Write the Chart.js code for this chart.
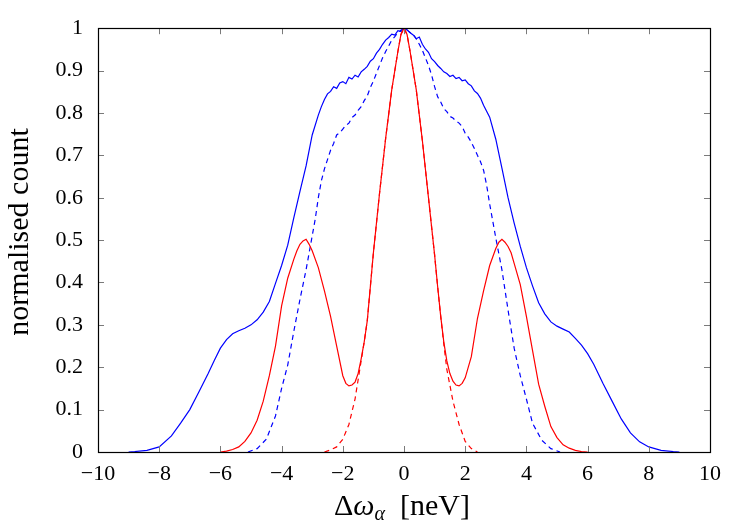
<!DOCTYPE html>
<html>
<head>
<meta charset="utf-8">
<script src="https://cdn.jsdelivr.net/npm/chart.js@4/dist/chart.umd.min.js"></script>
<style>
html,body{margin:0;padding:0;background:#fff;}
#wrap{width:750px;height:525px;}
</style>
</head>
<body>
<div id="wrap"><canvas id="c" width="750" height="525"></canvas></div>
<script>
// ---- data ----
const xTicks = [-10, -8, -6, -4, -2, 0, 2, 4, 6, 8, 10];
const yTicks = [0, 0.1, 0.2, 0.3, 0.4, 0.5, 0.6, 0.7, 0.8, 0.9, 1];
const xTitleParts = ["Δ", "ω", "α", "  [neV]"];
const yTitle = "normalised count";

const blueSolidX = [-9.0,-8.8,-8.4,-8.0,-7.6,-7.3,-7.0,-6.7,-6.4,-6.2,-6.0,-5.8,-5.6,-5.4,-5.2,-5.0,-4.8,-4.6,-4.4,-4.2,-4.0,-3.8,-3.6,-3.4,-3.2,-3.0,-2.8,-2.7,
  -2.6,-2.5,-2.4,-2.3,-2.2,-2.1,-2.0,-1.9,-1.8,-1.7,-1.6,-1.5,-1.4,-1.3,-1.2,-1.1,-1.0,-0.9,-0.8,-0.7,-0.6,-0.5,-0.4,-0.3,-0.2,-0.1,0,
  0.1,0.2,0.3,0.4,0.5,0.6,0.7,0.8,0.9,1.0,1.1,1.2,1.3,1.4,1.5,1.6,1.7,1.8,1.9,2.0,2.1,2.2,2.3,2.4,2.5,2.6,
  2.8,3.0,3.2,3.4,3.6,3.8,4.0,4.2,4.4,4.6,4.8,5.0,5.2,5.4,5.6,5.8,6.0,6.2,6.5,6.8,7.1,7.4,7.7,8.0,8.4,8.8,9.0];
const blueSolidY = [0,0.001,0.004,0.012,0.038,0.068,0.100,0.142,0.185,0.216,0.245,0.265,0.279,0.286,0.292,0.300,0.312,0.330,0.355,0.398,0.440,0.488,0.553,0.615,0.675,0.748,0.795,0.815,
  0.832,0.845,0.851,0.862,0.858,0.871,0.874,0.869,0.884,0.880,0.889,0.885,0.897,0.903,0.910,0.922,0.928,0.941,0.950,0.962,0.972,0.978,0.986,0.984,0.994,0.992,1.000,
  0.996,0.989,0.984,0.975,0.979,0.962,0.951,0.943,0.928,0.921,0.912,0.905,0.897,0.893,0.886,0.889,0.881,0.884,0.876,0.878,0.869,0.864,0.852,0.846,0.835,0.818,
  0.790,0.738,0.670,0.600,0.540,0.485,0.435,0.392,0.352,0.326,0.307,0.297,0.290,0.283,0.268,0.252,0.232,0.207,0.162,0.120,0.078,0.045,0.024,0.012,0.004,0.001,0];

const blueDashX = [-5.1,-4.8,-4.5,-4.2,-4.0,-3.8,-3.6,-3.4,-3.2,-3.0,-2.9,-2.8,-2.7,-2.6,-2.5,-2.4,-2.3,-2.2,-2.1,-2.0,-1.9,-1.8,-1.7,-1.6,-1.5,-1.4,-1.3,-1.2,-1.1,-1.0,-0.9,-0.8,-0.7,-0.6,-0.5,-0.4,-0.3,-0.2,-0.1,0,
  0.1,0.2,0.3,0.4,0.5,0.6,0.7,0.8,0.9,1.0,1.1,1.2,1.3,1.4,1.5,1.6,1.7,1.8,1.9,2.0,2.1,2.2,2.3,2.4,2.5,2.6,2.7,2.8,2.9,3.0,3.2,3.4,3.6,3.8,4.0,4.2,4.5,4.8,5.1];
const blueDashY = [0,0.008,0.03,0.085,0.15,0.205,0.285,0.36,0.43,0.51,0.55,0.60,0.64,0.668,0.69,0.712,0.728,0.748,0.753,0.762,0.771,0.776,0.789,0.795,0.806,0.815,0.829,0.840,0.860,0.875,0.894,0.912,0.930,0.945,0.958,0.972,0.980,0.990,0.995,1.0,
  0.996,0.990,0.986,0.975,0.962,0.948,0.930,0.912,0.890,0.862,0.838,0.826,0.810,0.803,0.792,0.788,0.781,0.776,0.768,0.752,0.743,0.731,0.716,0.700,0.685,0.665,0.630,0.585,0.545,0.505,0.430,0.335,0.245,0.180,0.125,0.068,0.028,0.008,0];

const redSolidX = [-6.0,-5.8,-5.6,-5.4,-5.2,-5.0,-4.8,-4.6,-4.4,-4.2,-4.0,-3.8,-3.6,-3.5,-3.4,-3.3,-3.2,-3.1,-3.0,-2.8,-2.6,-2.4,-2.2,-2.0,-1.9,-1.8,-1.7,-1.6,-1.5,-1.4,-1.3,-1.2,-1.1,-1.0,-0.8,-0.6,-0.4,-0.2,-0.1,0,
  0.1,0.2,0.4,0.6,0.8,1.0,1.1,1.2,1.3,1.4,1.5,1.6,1.7,1.8,1.9,2.0,2.2,2.4,2.6,2.8,3.0,3.1,3.2,3.3,3.4,3.5,3.6,3.8,4.0,4.2,4.4,4.6,4.8,5.0,5.2,5.4,5.6,5.8,6.0];
const redSolidY = [0,0.002,0.006,0.012,0.025,0.045,0.075,0.12,0.18,0.25,0.345,0.41,0.455,0.475,0.49,0.498,0.502,0.49,0.475,0.435,0.38,0.32,0.25,0.18,0.162,0.156,0.158,0.165,0.185,0.22,0.26,0.31,0.39,0.47,0.61,0.74,0.855,0.945,0.985,1.0,
  0.985,0.945,0.855,0.735,0.60,0.465,0.39,0.32,0.26,0.215,0.185,0.167,0.158,0.156,0.162,0.175,0.225,0.315,0.38,0.44,0.48,0.495,0.502,0.495,0.485,0.47,0.445,0.395,0.32,0.24,0.16,0.108,0.06,0.034,0.017,0.009,0.004,0.001,0];

const redDashX = [-2.6,-2.4,-2.2,-2.0,-1.8,-1.6,-1.4,-1.3,-1.2,-1.1,-1.0,-0.8,-0.6,-0.4,-0.2,-0.1,0,0.1,0.2,0.4,0.6,0.8,1.0,1.1,1.2,1.3,1.4,1.6,1.8,2.0,2.2,2.4];
const redDashY = [0,0.005,0.012,0.03,0.065,0.125,0.215,0.26,0.31,0.39,0.47,0.61,0.74,0.855,0.945,0.985,1.0,0.985,0.945,0.855,0.735,0.60,0.465,0.39,0.32,0.255,0.195,0.12,0.065,0.025,0.008,0];

// ---- build chart ----
function pts(xs, ys){ return xs.map((x,i)=>({x:x, y:ys[i]})); }
const FONT = "'Liberation Serif', 'Times New Roman', serif";
const L = 98, R = 710, T = 22, B = 452;

const framePlugin = {
  id: 'frame',
  afterDatasetsDraw(chart){
    const ctx = chart.ctx, a = chart.chartArea;
    const xs = chart.scales.x, ys = chart.scales.y;
    ctx.save();
    ctx.strokeStyle = '#7a7a7a';
    ctx.lineWidth = 1;
    const tl = 6;
    xTicks.forEach(v => {
      const p = Math.round(xs.getPixelForValue(v)) + 0.5;
      ctx.beginPath();
      ctx.moveTo(p, a.bottom); ctx.lineTo(p, a.bottom - tl);
      ctx.moveTo(p, a.top); ctx.lineTo(p, a.top + tl);
      ctx.stroke();
    });
    yTicks.forEach(v => {
      const p = Math.round(ys.getPixelForValue(v)) + 0.5;
      ctx.beginPath();
      ctx.moveTo(a.left, p); ctx.lineTo(a.left + tl, p);
      ctx.moveTo(a.right, p); ctx.lineTo(a.right - tl, p);
      ctx.stroke();
    });
    ctx.strokeStyle = '#000';
    ctx.lineWidth = 1.2;
    ctx.strokeRect(Math.round(a.left)+0.5, Math.round(a.top)+0.5, Math.round(a.right - a.left), Math.round(a.bottom - a.top));
    ctx.restore();
  },
  afterDraw(chart){
    const ctx = chart.ctx;
    ctx.save();
    ctx.fillStyle = '#000';
    // y title
    ctx.font = "30px " + FONT;
    ctx.textAlign = 'center';
    ctx.textBaseline = 'alphabetic';
    ctx.translate(28, 232);
    ctx.rotate(-Math.PI/2);
    ctx.fillText(yTitle, 0, 0);
    ctx.restore();
    // x title with subscript
    ctx.save();
    ctx.fillStyle = '#000';
    ctx.textBaseline = 'alphabetic';
    ctx.textAlign = 'left';
    const fMain = "30px " + FONT, fIt = "italic 30px " + FONT, fSub = "italic 20px " + FONT;
    ctx.font = fMain; const w0 = ctx.measureText(xTitleParts[0]).width;
    ctx.font = fIt; const w1 = ctx.measureText(xTitleParts[1]).width;
    ctx.font = fSub; const w2 = ctx.measureText(xTitleParts[2]).width;
    ctx.font = fMain; const w3 = ctx.measureText(xTitleParts[3]).width;
    const total = w0 + w1 + w2 + w3;
    let x = 402 - total/2;
    const base = 515;
    ctx.font = fMain; ctx.fillText(xTitleParts[0], x, base); x += w0;
    ctx.font = fIt; ctx.fillText(xTitleParts[1], x, base); x += w1;
    ctx.font = fSub; ctx.fillText(xTitleParts[2], x, base + 5); x += w2;
    ctx.font = fMain; ctx.fillText(xTitleParts[3], x, base);
    ctx.restore();
  }
};

new Chart(document.getElementById('c'), {
  type: 'line',
  data: {
    datasets: [
      { data: pts(blueSolidX, blueSolidY), borderColor: '#0000ff', borderWidth: 1.2, pointRadius: 0, order: 4 },
      { data: pts(blueDashX, blueDashY), borderColor: '#0000ff', borderWidth: 1.2, pointRadius: 0, borderDash: [5, 4], order: 3 },
      { data: pts(redSolidX, redSolidY), borderColor: '#ff0000', borderWidth: 1.2, pointRadius: 0, order: 2 },
      { data: pts(redDashX, redDashY), borderColor: '#ff0000', borderWidth: 1.2, pointRadius: 0, borderDash: [5, 4], order: 1 }
    ]
  },
  options: {
    responsive: false,
    devicePixelRatio: 1,
    animation: false,
    layout: { padding: { top: T, right: 750 - R, left: 0, bottom: 0 } },
    plugins: { legend: { display: false }, tooltip: { enabled: false } },
    elements: { line: { tension: 0 } },
    scales: {
      x: {
        type: 'linear', min: -10, max: 10,
        afterBuildTicks: s => { s.ticks = xTicks.map(v => ({value: v})); },
        afterFit: s => { s.height = 525 - B; },
        grid: { display: true, drawOnChartArea: false, drawTicks: false },
        border: { display: false },
        ticks: {
          padding: 9, color: '#000', font: { family: FONT, size: 22 },
          maxRotation: 0, autoSkip: false,
          callback: v => (v < 0 ? '\u2212' + Math.abs(v) : String(v))
        }
      },
      y: {
        type: 'linear', min: 0, max: 1,
        afterBuildTicks: s => { s.ticks = yTicks.map(v => ({value: v})); },
        afterFit: s => { s.width = L; },
        grid: { display: true, drawOnChartArea: false, drawTicks: false },
        border: { display: false },
        ticks: {
          padding: 15, color: '#000', font: { family: FONT, size: 22 },
          autoSkip: false,
          callback: v => (v === 0 ? '0' : v === 1 ? '1' : v.toFixed(1))
        }
      }
    }
  },
  plugins: [framePlugin]
});
</script>
</body>
</html>
